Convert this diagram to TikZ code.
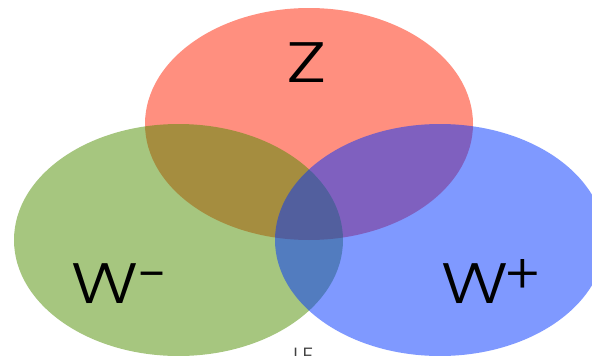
\documentclass[tikz,border=0pt]{standalone}
\usepackage{graphicx}
\usepackage{fontspec}
\setmainfont{Poppins}[UprightFont=* Light]
\begin{document}
\begin{tikzpicture}[x=1pt,y=-1pt,
  venn/.style={fill opacity=0.5},
  biglabel/.style={inner sep=0pt,anchor=base west,font=\fontsize{57}{60}\selectfont}]
\definecolor{vred}{RGB}{255,31,0}
\definecolor{vgreen}{RGB}{77,141,0}
\definecolor{vblue}{RGB}{0,51,255}
\newcommand{\supsym}[1]{\raisebox{9pt}{\fontsize{56}{58}\selectfont #1}}
\useasboundingbox (0,0) rectangle (592,356);
\clip (0,0) rectangle (592,356);
\fill[vred,venn] (309,124) ellipse [x radius=164, y radius=116];
\fill[vgreen,venn] (178.5,240) ellipse [x radius=164.5, y radius=116];
\fill[vblue,venn] (440,240) ellipse [x radius=165, y radius=116];
\node[biglabel,anchor=base] (z) at (306.5,82) {\scalebox{1.35}[1]{Z}};
\node[biglabel] (wm) at (71,303) {\scalebox{1.23}[1]{W}\hspace{-1pt}\supsym{−}};
\node[biglabel] (wp) at (441,303) {\scalebox{1.23}[1]{W}\hspace{-4pt}\supsym{+}};
\node[inner sep=0pt,anchor=base west,text=black!75,font=\fontsize{22}{24}\selectfont] (le) at (293,363) {LE};
\end{tikzpicture}
\end{document}
